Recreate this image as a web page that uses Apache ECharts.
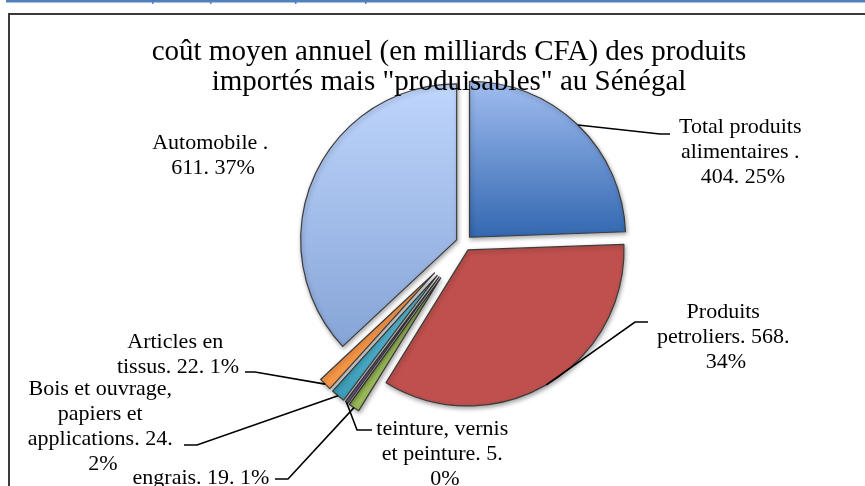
<!DOCTYPE html>
<html>
<head>
<meta charset="utf-8">
<script src="https://cdn.jsdelivr.net/npm/echarts@6/dist/echarts.min.js"></script>
<style>
  html, body { margin: 0; padding: 0; background: #fff; }
  #chart { width: 865px; height: 486px; }
</style>
</head>
<body>
<div id="chart"></div>
<script>
// Coût moyen annuel (milliards CFA) des produits importés "produisables"
const categories = [
  'Total produits alimentaires ',
  'Produits petroliers',
  'engrais',
  'teinture, vernis et peinture',
  'Bois et ouvrage, papiers et applications',
  'Articles en tissus',
  'Automobile '
];
const values = [404, 568, 19, 5, 24, 22, 611];
const shares = [25, 34, 1, 0, 2, 1, 37];

// ---- presentation ----
const FONT = 'Liberation Serif';
const CENTER = [464, 243];
const RADIUS = 156;
const OFFSET_MAJOR = 8;
const OFFSET_MINOR = 42;

function grad(top, bottom) {
  return new echarts.graphic.LinearGradient(0, 0, 0, 1, [
    { offset: 0, color: top }, { offset: 1, color: bottom }
  ]);
}
const fills = [
  grad('#a0bdf0', '#3267b0'),
  '#c0504d',
  '#9bbb59',
  '#8064a2',
  grad('#63c6de', '#3b9bb7'),
  '#f79646',
  grad('#bfd6fc', '#86a4d7')
];

// label block centres, wrap widths, and where each leader line meets its label
const labelPos = [
  [743, 152], [726, 337], [201, 478], [445, 454], [103, 427], [178, 355], [213, 156]
];
const wrapWidth = [140, 150, 220, 140, 160, 135, 125];
const leaderEnd = [
  [670, 134], [648, 322], [275, 479], [372, 430], [184, 445], [245, 372], null
];
const stubLen = [10, 13, 13, 15, 13, 10, 0];

// thin slices are pulled further away from the centre
const minor = shares.map(s => s < 5);

function buildData(showMinor) {
  return categories.map((name, i) => {
    const visible = minor[i] === showMinor;
    return {
      name: name,
      value: values[i],
      selected: true,
      itemStyle: visible
        ? { color: fills[i] }
        : { color: 'rgba(0,0,0,0)', borderWidth: 0, shadowBlur: 0, shadowColor: 'rgba(0,0,0,0)' }
    };
  });
}

function seriesFor(showMinor, offset) {
  return {
    type: 'pie',
    center: CENTER,
    radius: RADIUS,
    startAngle: 90,
    clockwise: true,
    selectedMode: 'multiple',
    selectedOffset: offset,
    animation: false,
    silent: true,
    label: { show: false },
    labelLine: { show: false },
    emphasis: { disabled: true },
    data: buildData(showMinor),
    itemStyle: {
      borderColor: '#3c3c3c',
      borderWidth: 1.2,
      shadowBlur: 4,
      shadowColor: 'rgba(0,0,0,0.35)',
      shadowOffsetX: 1,
      shadowOffsetY: 2
    }
  };
}

const chart = echarts.init(document.getElementById('chart'), null, { renderer: 'canvas' });
chart.setOption({
  backgroundColor: '#fff',
  animation: false,
  title: {
    text: 'coût moyen annuel (en milliards CFA) des produits\nimportés mais "produisables" au Sénégal',
    left: 444,
    top: 32,
    textAlign: 'center',
    textStyle: {
      fontFamily: FONT,
      fontWeight: 'normal',
      fontSize: 29,
      lineHeight: 30,
      color: '#000'
    }
  },
  series: [seriesFor(false, OFFSET_MAJOR), seriesFor(true, OFFSET_MINOR)]
});

// Slice geometry as laid out by the pie series (falls back to the same sweep rule)
function sliceGeometry(i) {
  const offset = minor[i] ? OFFSET_MINOR : OFFSET_MAJOR;
  let lay = null;
  try {
    lay = chart.getModel().getSeriesByIndex(minor[i] ? 1 : 0).getData().getItemLayout(i);
  } catch (e) { lay = null; }
  if (!lay) {
    const total = values.reduce((a, b) => a + b, 0);
    const before = values.slice(0, i).reduce((a, b) => a + b, 0);
    const s = -Math.PI / 2 + before / total * 2 * Math.PI;
    lay = { cx: CENTER[0], cy: CENTER[1], r: RADIUS,
            startAngle: s, endAngle: s + values[i] / total * 2 * Math.PI };
  }
  const mid = (lay.startAngle + lay.endAngle) / 2;
  const rr = lay.r + offset;
  return [lay.cx + rr * Math.cos(mid), lay.cy + rr * Math.sin(mid)];
}

const graphics = [
  { type: 'rect', shape: { x: 9, y: 14, width: 900, height: 520 },
    style: { fill: 'none', stroke: '#3a3a3a', lineWidth: 2 }, z: 100 },
  { type: 'rect', shape: { x: 6, y: 0, width: 865, height: 2.5 },
    style: { fill: '#4f81bd' }, z: 100 }
];
[152, 210, 295, 365].forEach(x => graphics.push({
  type: 'rect', shape: { x: x, y: 0, width: 1.5, height: 4 }, style: { fill: '#4f81bd' }, z: 100
}));

categories.forEach((name, i) => {
  graphics.push({
    type: 'text',
    x: labelPos[i][0],
    y: labelPos[i][1],
    z: 100,
    style: {
      text: name + '. ' + values[i] + '. ' + shares[i] + '%',
      font: '22px "' + FONT + '"',
      fill: '#000',
      align: 'center',
      verticalAlign: 'middle',
      lineHeight: 25,
      width: wrapWidth[i],
      overflow: 'break'
    }
  });
  const end = leaderEnd[i];
  if (end) {
    const anchor = sliceGeometry(i);
    const dir = end[0] >= anchor[0] ? 1 : -1;
    const elbow = [end[0] - dir * stubLen[i], end[1]];
    graphics.push({
      type: 'polyline',
      z: 90,
      shape: { points: [anchor, elbow, end] },
      style: { stroke: '#000', lineWidth: 1.6, fill: null }
    });
  }
});

chart.setOption({ graphic: graphics });
</script>
</body>
</html>
